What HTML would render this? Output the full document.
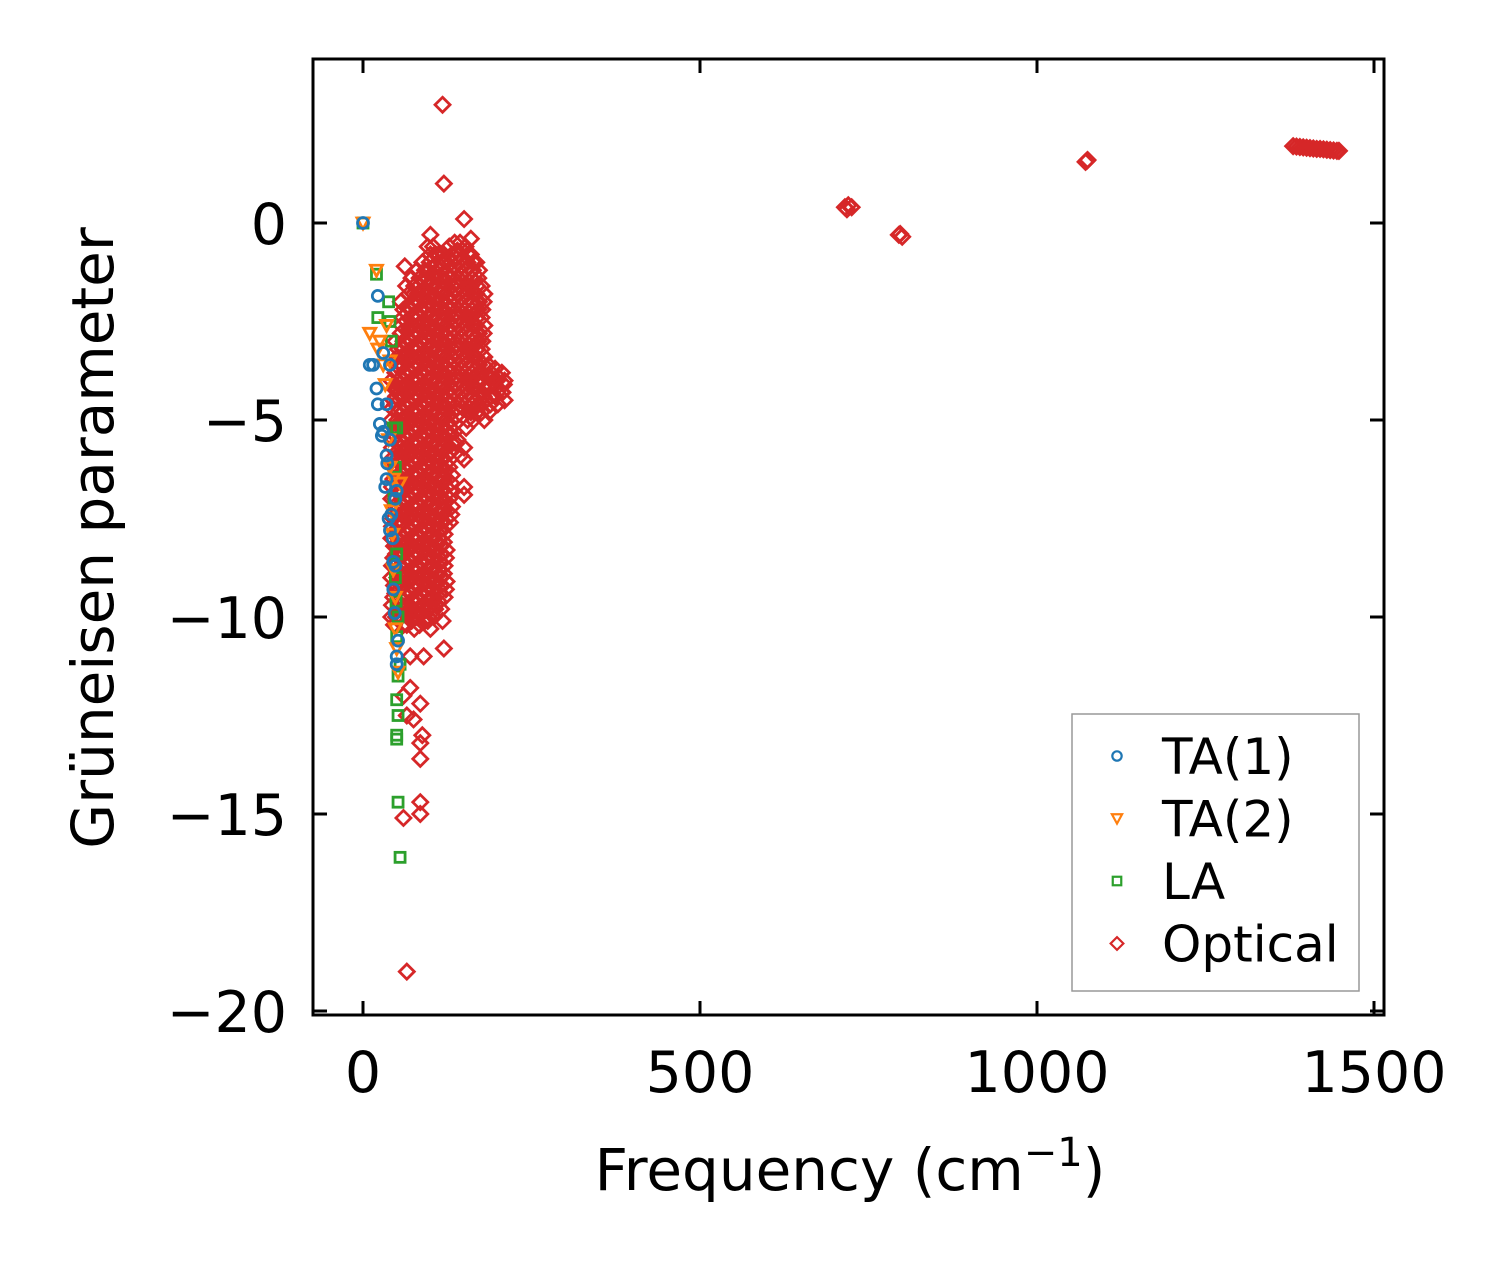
<!DOCTYPE html>
<html><head><meta charset="utf-8"><style>
html,body{margin:0;padding:0;background:#fff;}
svg{display:block;font-family:"DejaVu Sans","Liberation Sans",sans-serif;}
</style></head><body>
<svg id="chart" width="1510" height="1264" viewBox="0 0 1510 1264" xmlns="http://www.w3.org/2000/svg">
<rect width="1510" height="1264" fill="#fff"/>
<defs><clipPath id="plotclip"><rect x="313" y="59" width="1071" height="956"/></clipPath></defs>
<g id="marks" clip-path="url(#plotclip)"></g>
<g id="axes"></g>
<g id="legend"></g>
<text x="850" y="1190" text-anchor="middle" font-size="58">Frequency (cm<tspan dy="-24" font-size="40">−1</tspan><tspan dy="24">)</tspan></text>
<text transform="translate(113,538) rotate(-90)" text-anchor="middle" font-size="58">Grüneisen parameter</text>
</svg>
<script>
const xTicks=[0,500,1000,1500];
const xTickLabels=["0","500","1000","1500"];
const yTicks=[0,-5,-10,-15,-20];
const yTickLabels=["0","−5","−10","−15","−20"];

const ta1Freq=[0,22,10,15,20,22,25,28,30,35,35,33,38,40,42,45,45,48,50,50,50,48,30,40,35,40,36,44,47,52];
const ta1Gamma=[0,-1.85,-3.6,-3.6,-4.2,-4.6,-5.1,-5.4,-5.3,-5.9,-6.5,-6.7,-7.5,-7.8,-7.4,-8.6,-9.3,-8.7,-11,-11.2,-6.8,-7,-3.3,-3.6,-4.6,-5.5,-6.1,-8.0,-9.9,-10.6];
const ta2Freq=[0,20,10,25,30,35,40,38,40,42,45,48,48,50,45,55,22,33,44,52];
const ta2Gamma=[0,-1.2,-2.8,-3.0,-3.6,-2.6,-3.5,-5.5,-6.2,-7.3,-8.8,-9.5,-10.3,-10.8,-6.5,-6.6,-3.2,-4.1,-7.9,-11.4];
const laFreq=[0,20,22,38,40,42,45,50,48,50,48,52,50,52,50,52,50,50,52,55,55,46,49];
const laGamma=[0,-1.3,-2.4,-2.0,-2.5,-3.0,-5.2,-5.2,-6.2,-8.4,-9.0,-10,-10.5,-11.5,-12.1,-12.5,-13.0,-13.1,-14.7,-16.1,-11.2,-7.0,-9.6];

const opticalColFreq=[42,48,56,64,72,80,88,96,104,112,120,128,136,144,152,160,168,176,186,196,206];
const opticalColGamma=[
[-4.0,-4.5,-5.0,-5.5,-6.0,-6.5,-7.0,-7.5,-8.0,-8.5,-9.0,-9.5,-10.0],
[-3.0,-3.4,-3.8,-4.2,-4.6,-5.0,-5.4,-5.8,-6.2,-6.6,-7.0,-7.4,-7.8,-8.2,-8.6,-9.0,-9.4,-9.8],
[-2.0,-2.4,-2.8,-3.2,-3.6,-4.0,-4.4,-4.8,-5.2,-5.6,-6.0,-6.4,-6.8,-7.2,-7.6,-8.0,-8.4,-8.8,-9.2,-9.6,-10.0],
[-1.6,-2.1,-2.5,-2.9,-3.3,-3.7,-4.1,-4.5,-4.9,-5.3,-5.7,-6.1,-6.5,-6.9,-7.3,-7.7,-8.1,-8.5,-8.9,-9.3,-9.7,-10.0],
[-1.4,-1.8,-2.2,-2.6,-3.0,-3.4,-3.8,-4.2,-4.6,-5.0,-5.4,-5.8,-6.2,-6.6,-7.0,-7.4,-7.8,-8.2,-8.6,-9.0,-9.4,-9.8,-10.1],
[-1.2,-1.6,-2.0,-2.4,-2.8,-3.2,-3.6,-4.0,-4.4,-4.8,-5.2,-5.6,-6.0,-6.4,-6.8,-7.2,-7.6,-8.0,-8.4,-8.8,-9.2,-9.6,-10.0],
[-1.0,-1.5,-1.9,-2.3,-2.7,-3.1,-3.5,-3.9,-4.3,-4.7,-5.1,-5.5,-5.9,-6.3,-6.7,-7.1,-7.5,-7.9,-8.3,-8.7,-9.1,-9.5,-9.9],
[-0.6,-1.0,-1.4,-1.8,-2.2,-2.6,-3.0,-3.4,-3.8,-4.2,-4.6,-5.0,-5.4,-5.8,-6.2,-6.6,-7.0,-7.4,-7.8,-8.2,-8.6,-9.0,-9.4,-9.8,-10.1],
[-0.6,-1.1,-1.5,-1.9,-2.3,-2.7,-3.1,-3.5,-3.9,-4.3,-4.7,-5.1,-5.5,-5.9,-6.3,-6.7,-7.1,-7.5,-7.9,-8.3,-8.7,-9.1,-9.5,-9.8],
[-0.8,-1.2,-1.6,-2.0,-2.4,-2.8,-3.2,-3.6,-4.0,-4.4,-4.8,-5.2,-5.6,-6.0,-6.4,-6.8,-7.2,-7.6,-8.0,-8.4,-8.8,-9.2,-9.6],
[-0.8,-1.3,-1.7,-2.1,-2.5,-2.9,-3.3,-3.7,-4.1,-4.5,-4.9,-5.3,-5.7,-6.1,-6.5,-6.9,-7.3,-7.7,-8.1,-8.5,-8.9,-9.3],
[-0.6,-1.0,-1.4,-1.8,-2.2,-2.6,-3.0,-3.4,-3.8,-4.2,-4.6,-5.0,-5.4,-5.8,-6.2,-6.6,-7.0,-7.4],
[-0.5,-0.9,-1.3,-1.7,-2.1,-2.5,-2.9,-3.3,-3.7,-4.1,-4.5,-4.9,-5.3],
[-0.5,-0.9,-1.3,-1.7,-2.1,-2.5,-2.9,-3.3,-3.7,-4.1,-4.5],
[-0.6,-1.0,-1.4,-1.8,-2.2,-2.6,-3.0,-3.4,-3.8,-4.2,-4.6,-5.0],
[-0.8,-1.2,-1.6,-2.0,-2.4,-2.8,-3.2,-3.6,-4.0,-4.4,-4.8],
[-1.0,-1.4,-1.8,-2.2,-2.6,-3.0,-3.4,-3.8,-4.2,-4.6],
[-1.6,-2.0,-2.4,-2.8,-3.2,-3.6,-4.0,-4.4,-4.8],
[-3.6,-3.9,-4.2,-4.6],
[-3.7,-4.0,-4.4],
[-3.8,-4.1,-4.3]
];
const opticalFreq=[118,120,150,65,60,85,85,85,85,88,85,60,65,70,75,70,90,120,118,150,150,150,150,62,100,160,138,145,
  715,720,718,725,795,800,797,1072,1075,1074,
  1380,1385,1390,1395,1400,1405,1410,1415,1420,1425,1430,1435,1440,1445,1448];
const opticalGamma=[3.0,1.0,0.1,-19,-15.1,-14.7,-15,-13.6,-13.2,-13,-12.2,-12,-12.5,-11.8,-12.6,-11,-11,-10.8,-10.1,-6.7,-6.9,-6,-5.7,-1.1,-0.3,-0.4,-5.6,-5.9,
  0.4,0.45,0.35,0.4,-0.3,-0.35,-0.28,1.55,1.6,1.58,
  1.95,1.94,1.93,1.92,1.91,1.90,1.89,1.88,1.88,1.87,1.86,1.85,1.84,1.83,1.83];

const X0=363, XS=337/500, Y0=223, YS=197/5;
function xs(v){return X0+v*XS;}
function ys(v){return Y0-v*YS;}
const NS="http://www.w3.org/2000/svg";
function mk(tag,attrs,parent){const e=document.createElementNS(NS,tag);for(const k in attrs)e.setAttribute(k,attrs[k]);parent.appendChild(e);return e;}
const C={ta1:"#1f77b4",ta2:"#ff7f0e",la:"#2ca02c",opt:"#d62728"};
function marker(kind,cx,cy,parent,s,sw){
  s=s||1;sw=sw||2.8;let e;
  if(kind==="ta1"){e=mk("circle",{cx:cx,cy:cy,r:5.5*s,fill:"none",stroke:C.ta1,"stroke-width":sw},parent);}
  else if(kind==="ta2"){e=mk("polygon",{points:`${cx-6*s},${cy-5*s} ${cx+6*s},${cy-5*s} ${cx},${cy+6*s}`,fill:"none",stroke:C.ta2,"stroke-width":sw},parent);}
  else if(kind==="la"){e=mk("rect",{x:cx-5*s,y:cy-5*s,width:10*s,height:10*s,fill:"none",stroke:C.la,"stroke-width":sw},parent);}
  else {e=mk("polygon",{points:`${cx},${cy-7.5*s} ${cx+7.5*s},${cy} ${cx},${cy+7.5*s} ${cx-7.5*s},${cy}`,fill:"none",stroke:C.opt,"stroke-width":sw},parent);}
  return e;
}
const marks=document.getElementById("marks");
const gOpt=mk("g",{},marks);


opticalColFreq.forEach((f,i)=>{opticalColGamma[i].forEach((g,j)=>{
  const m=marker("opt",xs(f+(j%2)*3),ys(g),gOpt);
  
  
  const m2=marker("opt",xs(f+4-(j%2)*3),ys(g-0.2),gOpt);
  
  
});});
opticalFreq.forEach((f,i)=>{
  const m=marker("opt",xs(f),ys(opticalGamma[i]),gOpt);
  
  
});
[["la",laFreq,laGamma,"la-series"],["ta2",ta2Freq,ta2Gamma,"ta2-series"],["ta1",ta1Freq,ta1Gamma,"ta1-series"]].forEach(s=>{
  const g=mk("g",{},marks);
  
  
  s[1].forEach((f,i)=>{
    const m=marker(s[0],xs(f),ys(s[2][i]),g);
    
    
  });
});
const ax=document.getElementById("axes");
const frame=mk("rect",{x:313,y:59,width:1071,height:956,fill:"none",stroke:"#000","stroke-width":3},ax);


xTicks.forEach((t,i)=>{
  const x=xs(t);
  const a=mk("line",{x1:x,x2:x,y1:1015,y2:1001,stroke:"#000","stroke-width":3},ax);
  
  
  const b=mk("line",{x1:x,x2:x,y1:59,y2:73,stroke:"#000","stroke-width":3},ax);
  
  
  const l=mk("text",{x:x,y:1092,"text-anchor":"middle","font-size":57},ax);
  l.textContent=xTickLabels[i];
  
  
});
yTicks.forEach((t,i)=>{
  const y=ys(t);
  const a=mk("line",{x1:313,x2:327,y1:y,y2:y,stroke:"#000","stroke-width":3},ax);
  
  
  const b=mk("line",{x1:1384,x2:1370,y1:y,y2:y,stroke:"#000","stroke-width":3},ax);
  
  
  const l=mk("text",{x:287,y:y+21,"text-anchor":"end","font-size":57},ax);
  l.textContent=yTickLabels[i];
  
  
});
const lg=document.getElementById("legend");
const box=mk("rect",{x:1072,y:714,width:287,height:277,fill:"#fff",stroke:"#999","stroke-width":1.5},lg);


const legendLabels=["TA(1)","TA(2)","LA","Optical"];
const legendKinds=["ta1","ta2","la","opt"];
legendLabels.forEach((lab,i)=>{
  const y=756+i*62.5;
  const m=marker(legendKinds[i],1117,y,lg,0.85,2.2);
  
  
  const t=mk("text",{x:1162,y:y+18,"font-size":50},lg);
  t.textContent=lab;
  
  
});
</script>
</body></html>
